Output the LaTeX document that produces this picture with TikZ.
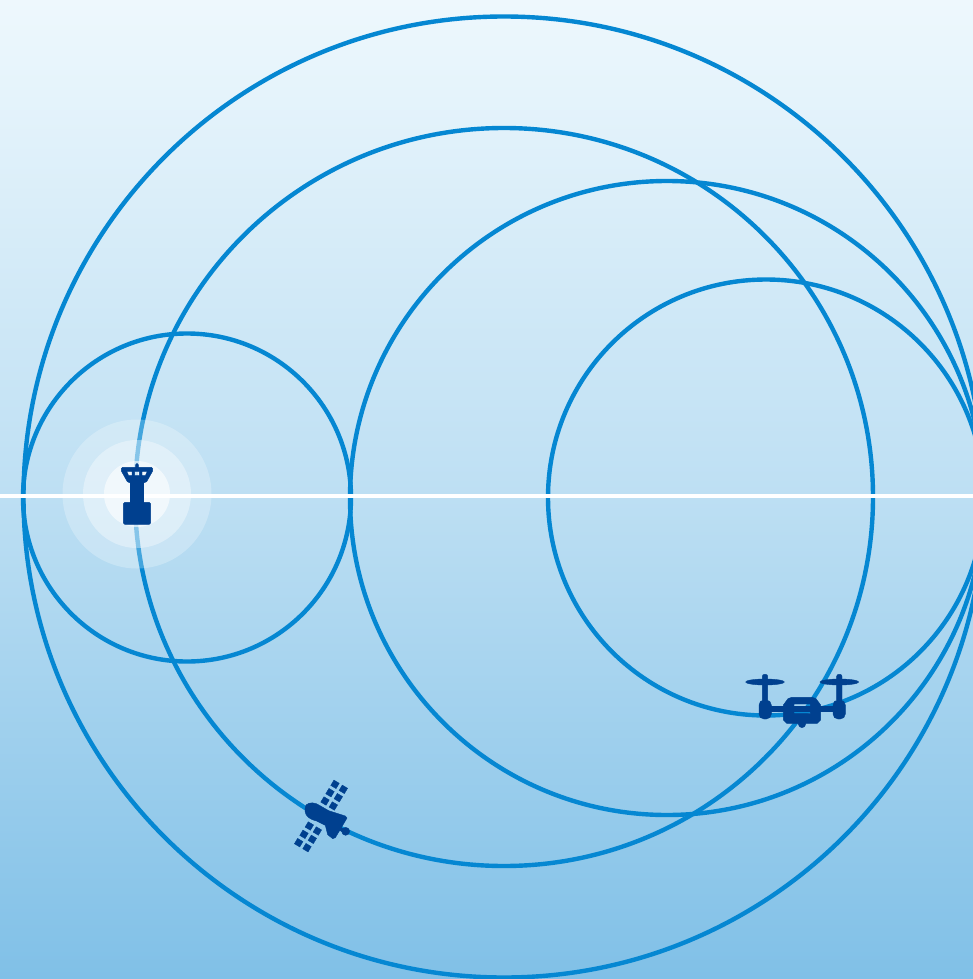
\documentclass[tikz,border=0pt]{standalone}
\definecolor{skyA}{HTML}{EEF8FD}
\definecolor{skyB}{HTML}{BDDFF3}
\definecolor{skyC}{HTML}{80C0E7}
\definecolor{ringc}{HTML}{0587D2}
\definecolor{iconc}{HTML}{00408F}
\pgfdeclareverticalshading{skyfade}{973pt}{color(0pt)=(skyC); color(483pt)=(skyB); color(979pt)=(skyA)}
\tikzset{
  ring/.style={draw=ringc,line width=4.4pt},
  glowa/.style={fill=white,fill opacity=0.25,draw=none},
  glowb/.style={fill=white,fill opacity=0.36,draw=none},
  glowc/.style={fill=white,fill opacity=0.58,draw=none},
  icon/.style={fill=iconc,draw=iconc,line width=0.4pt},
  horizon/.style={draw=white,line width=4pt}
}
\begin{document}
\begin{tikzpicture}[x=1pt,y=-1pt]
\useasboundingbox (0,0) rectangle (973,979);
\begin{scope}
\clip (0,0) rectangle (973,979);
\node[inner sep=0pt,outer sep=0pt,anchor=north west] (sky) at (0,0) {\pgfuseshading{skyfade}};
% rings
\draw[ring] (504,497) circle[radius=480.5];
\draw[ring] (504,497) circle[radius=369];
\draw[ring] (667,498) circle[radius=317];
\draw[ring] (766,497.5) circle[radius=218];
\draw[ring] (187,497.5) circle[radius=164];
% horizon
\draw[horizon] (0,496.3) -- (973,496.3);
% glow
\fill[glowa] (137,494) circle[radius=74.5];
\fill[glowb] (137,494) circle[radius=54];
\fill[glowc] (137,494) circle[radius=33];
% tower
\begin{scope}[shift={(50,410)},scale=1/3]
\fill[icon,rounded corners=1.5pt] (220,277) rectangle (302,343);
\fill[icon] (241,205) rectangle (280,285);
\fill[icon] (257,175) -- (257,164) arc[start angle=180,end angle=360,radius=4] -- (265,175) -- cycle;
\fill[icon,even odd rule] (214,176) -- (218,172) -- (304,172) -- (308,176) -- (308,183) -- (290,215) -- (280,219) -- (241,219) -- (232,215) -- (214,183) -- cycle
  (230,184) -- (246,184) -- (246,197) -- (236,197) -- cycle
  (254,184) -- (268,184) -- (268,197) -- (254,197) -- cycle
  (276,184) -- (292,184) -- (286,197) -- (276,197) -- cycle;
\end{scope}
% satellite
\begin{scope}[shift={(270,760)},scale=1/3]
\foreach \cx/\cy in {195/73,220/88,180/98,205/113,165/123,190/138,118/198,142/213,102/223,127/238,86/248,111/263}{
  \fill[icon,shift={(\cx,\cy)}] (3.2,12.7) -- (12.7,-3.2) -- (-3.2,-12.7) -- (-12.7,3.2) -- cycle;
}
\fill[icon] (108,135) .. controls (118,126) and (135,126) .. (150,137)
  -- (176,152) -- (226,168) -- (231,174) -- (214,203) -- (196,233) -- (188,236) -- (173,224)
  -- (166,196) -- (140,183) .. controls (118,178) and (97,165) .. (108,135) -- cycle;
\fill[icon] (200,196) -- (222,208) -- (218,216) -- (196,204) -- cycle;
\fill[icon] (227,214) circle[radius=12];
\end{scope}
% drone
\begin{scope}[shift={(730,660)},scale=1/3]
\fill[icon] (105,66) ellipse[x radius=58,y radius=9];
\fill[icon] (328,66) ellipse[x radius=58,y radius=9];
\fill[icon,rounded corners=2pt] (97,43) rectangle (113,125);
\fill[icon,rounded corners=2pt] (320,43) rectangle (336,125);
\fill[icon,rounded corners=5pt] (87,120) rectangle (124,177);
\fill[icon,rounded corners=5pt] (309,120) rectangle (346,177);
\fill[icon] (110,138) rectangle (325,155);
\fill[icon] (216,192) circle[radius=11];
\fill[icon,even odd rule] (185,112) -- (247,112) -- (258,116) -- (272,135) -- (272,180) -- (262,190) -- (170,190) -- (160,180) -- (160,135) -- (174,116) -- cycle
  (192,132) -- (241,132) -- (241,143) -- (192,143) -- cycle
  (192,152) -- (241,152) -- (241,161) -- (192,161) -- cycle;
\end{scope}
\end{scope}
\end{tikzpicture}
\end{document}
